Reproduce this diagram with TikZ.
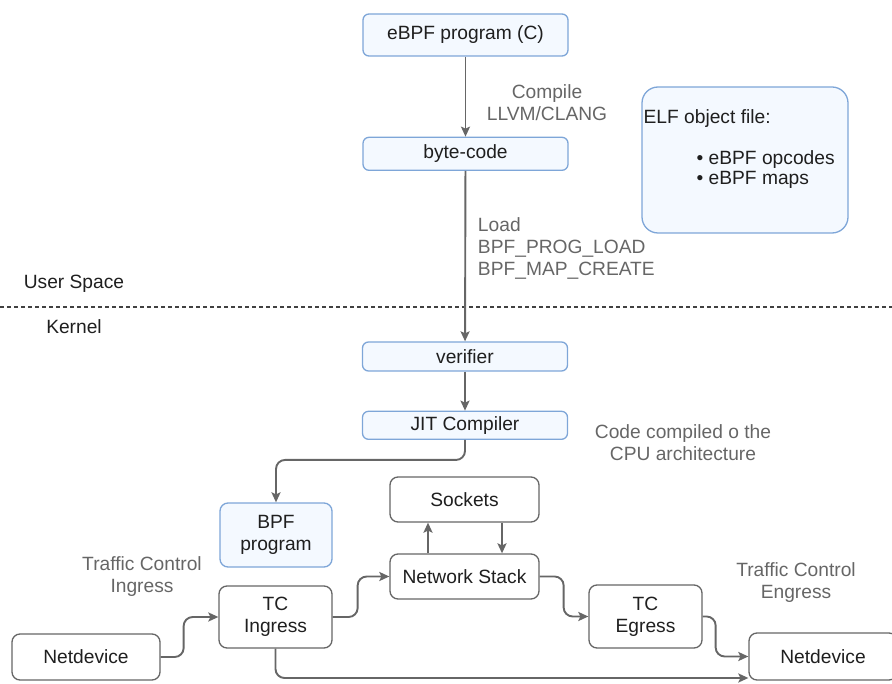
\documentclass[tikz,border=0pt]{standalone}
\usepackage{fontspec}
\setmainfont{Liberation Sans}
\usetikzlibrary{arrows.meta, positioning, calc}
\definecolor{cblue}{HTML}{7EA6D8}
\definecolor{cbluefill}{HTML}{F4F9FF}
\definecolor{cgrey}{HTML}{666666}
\definecolor{ctext}{HTML}{1F1F1F}
\tikzset{
  every picture/.style={font=\fontsize{19.2}{22}\selectfont, line width=1.3pt},
  bbox/.style={draw=cblue, fill=cbluefill, rounded corners=6pt, align=center, text=ctext, inner sep=2pt},
  gbox/.style={draw=cgrey, fill=white, rounded corners=8pt, align=center, text=ctext, inner sep=2pt},
  arrow/.style={-{Stealth[length=10pt, width=9pt, inset=2pt]}, draw=cgrey, line width=1.9pt, rounded corners=9pt},
  note/.style={text=cgrey, align=center},
}

\begin{document}
\begin{tikzpicture}[x=1pt, y=-1pt]
  \useasboundingbox (0,0) rectangle (892,684);
  % user space
  \node[bbox, minimum width=205pt, minimum height=42pt] (prog) at (465.5,35) {eBPF program (C)};
  \node[bbox, minimum width=205pt, minimum height=33pt, below=80pt of prog] (bcode) {byte-code};
  \node[note] (compile) at (547,103) {Compile\\LLVM/CLANG};
  \node[note, align=left, anchor=west] (load) at (474,248) {Load\\BPF\_PROG\_LOAD\\BPF\_MAP\_CREATE};
  \node[bbox, rounded corners=16pt, minimum width=206pt, minimum height=146pt] (elf) at (745,160) {};
  \node[anchor=west, inner sep=0pt, text=ctext] (elft) at (643,119) {ELF object file:};
  \node[anchor=west, inner sep=0pt, align=left, text=ctext, font=\fontsize{19.2}{20}\selectfont] (elfl) at (696,170) {\textbullet\ eBPF opcodes\\\textbullet\ eBPF maps};
  % boundary
  \node[text=ctext] (user) at (74,284) {User Space};
  \node[text=ctext] (kern) at (74,327) {Kernel};
  \coordinate (dl) at (0,307);
  \coordinate (dr) at (892,307);
  \draw[dashed, dash pattern=on 4pt off 3pt, draw=ctext!85, line width=1.3pt] (dl) -- (dr);
  % kernel
  \node[bbox, minimum width=205pt, minimum height=29pt] (verif) at (465,356.5) {verifier};
  \node[bbox, minimum width=205pt, minimum height=28pt, below=39pt of verif] (jit) {JIT Compiler};
  \node[note] (cpu) at (683,443) {Code compiled o the\\CPU architecture};
  \node[bbox, rounded corners=8pt, minimum width=112pt, minimum height=64pt] (bpf) at (276,535) {BPF\\program};
  \node[gbox, minimum width=149pt, minimum height=45pt] (sock) at (464.5,499.5) {Sockets};
  \node[gbox, minimum width=149pt, minimum height=45pt] (ns) at (464.5,576.5) {Network Stack};
  \node[gbox, minimum width=113pt, minimum height=62pt] (tcin) at (275.5,617) {TC\\Ingress};
  \node[gbox, minimum width=113pt, minimum height=63pt] (tce) at (645.5,616.5) {TC\\Egress};
  \node[gbox, minimum width=148pt, minimum height=46pt] (nd1) at (86,657) {Netdevice};
  \node[gbox, minimum width=148pt, minimum height=47pt] (nd2) at (823,656.5) {Netdevice};
  \node[note] (tcil) at (142,577) {Traffic Control\\Ingress};
  \node[note] (tcel) at (796,583) {Traffic Control\\Engress};

  \draw[arrow] (prog) -- (bcode);
  \draw[arrow] (bcode) -- (verif);
  \draw[arrow] (verif) -- (jit);
  \draw[arrow] (jit.south) -- ++(0,20) -| (bpf.north);
  \draw[arrow] (ns.north -| 428,0) -- (sock.south -| 428,0);
  \draw[arrow] (sock.south -| 502,0) -- (ns.north -| 502,0);
  \draw[arrow] (nd1.east) -- ++(23,0) |- (tcin.west);
  \draw[arrow] (tcin.east) -- ++(25,0) |- (ns.west);
  \draw[arrow] (ns.east) -- ++(24,0) |- (tce.west);
  \draw[arrow] (tce.east) -- ++(13,0) |- (nd2.west);
  \draw[arrow] (tcin.south) |- ([yshift=-21.5pt]nd2.west);
\end{tikzpicture}
\end{document}
